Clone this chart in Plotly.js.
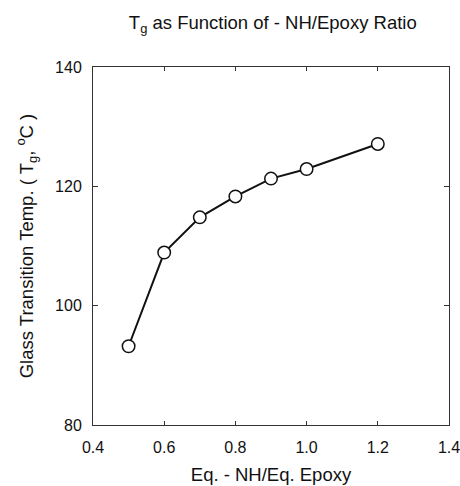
<!DOCTYPE html>
<html>
<head>
<meta charset="utf-8">
<script src="https://cdn.plot.ly/plotly-3.0.1.min.js"></script>
<style>html,body{margin:0;padding:0;background:#fff;}#chart{width:460px;height:486px;}</style>
</head>
<body>
<div id="chart"></div>
<script>
const ratio = [0.5, 0.6, 0.7, 0.8, 0.9, 1.0, 1.2];
const tg = [93.2, 108.9, 114.8, 118.3, 121.3, 122.9, 127.1];
const xTicks = [0.4, 0.6, 0.8, 1.0, 1.2, 1.4];
const xTickLabels = ['0.4', '0.6', '0.8', '1.0', '1.2', '1.4'];
const yTicks = [80, 100, 120, 140];

const font = {family: 'Liberation Sans, Arial, sans-serif', color: '#111'};
const titleSize = 18.5;
const tickSize = 16;

const trace = {
  x: ratio, y: tg, type: 'scatter', mode: 'lines+markers',
  line: {color: '#111', width: 2},
  marker: {symbol: 'circle', size: 12.5, color: '#fff', line: {color: '#111', width: 1.5}},
  cliponaxis: false
};

const layout = {
  width: 460, height: 486,
  margin: {l: 93, r: 11, t: 67, b: 61},
  paper_bgcolor: '#fff', plot_bgcolor: '#fff',
  showlegend: false,
  font: Object.assign({size: tickSize}, font),
  title: {text: 'T<sub>g</sub> as Function of - NH/Epoxy Ratio', x: 0.593, xanchor: 'center', y: 0.953, yanchor: 'middle',
          font: Object.assign({size: titleSize}, font)},
  xaxis: {
    range: [0.4, 1.4], tickvals: xTicks, ticktext: xTickLabels,
    showgrid: false, zeroline: false, showline: true, linecolor: '#333', linewidth: 1, mirror: 'ticks',
    ticks: 'inside', ticklen: 4, tickcolor: '#333', ticklabelstandoff: 8, ticklabeloverflow: 'allow',
    tickfont: Object.assign({size: tickSize}, font),
    title: {text: 'Eq. - NH/Eq. Epoxy', font: Object.assign({size: titleSize}, font), standoff: 12}
  },
  yaxis: {
    range: [80, 140], tickvals: yTicks,
    showgrid: false, zeroline: false, showline: true, linecolor: '#333', linewidth: 1, mirror: 'ticks',
    ticks: 'inside', ticklen: 5, tickcolor: '#333', ticklabelstandoff: 7, ticklabeloverflow: 'allow',
    tickfont: Object.assign({size: tickSize}, font),
    title: {text: 'Glass Transition Temp. ( T<sub>g</sub>, <sup>o</sup>C )', font: Object.assign({size: titleSize}, font), standoff: 16}
  }
};

Plotly.newPlot('chart', [trace], layout, {displayModeBar: false, staticPlot: true});
</script>
</body>
</html>
